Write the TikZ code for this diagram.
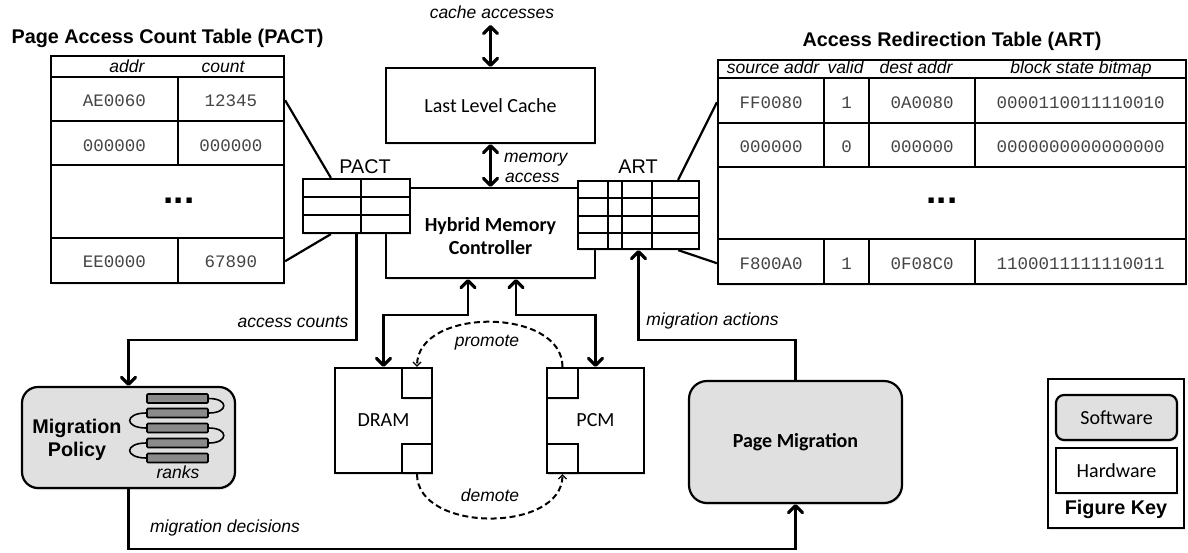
\documentclass[tikz,border=0pt]{standalone}
\usepackage{fontspec}
\setmainfont{Liberation Sans}
\setmonofont{Liberation Mono}
\newfontfamily\calfont{Carlito}
\usetikzlibrary{arrows.meta,shadows}

\definecolor{swgrey}{HTML}{E0E0E0}
\definecolor{rankgrey}{HTML}{8A8A8A}
\definecolor{celltext}{HTML}{444444}

\newcommand\ttlsize{\fontsize{19.8}{23}\selectfont}
\newcommand\lblsize{\fontsize{17.5}{20}\selectfont}
\newcommand\boxsize{\fontsize{20}{23}\selectfont}

\begin{document}
\begin{tikzpicture}[x=1pt,y=-1pt,line width=2.2pt,
  >={Straight Barb[length=7pt,width=14pt,line width=3.2pt,round]},
  hw/.style={draw,line width=2.2pt,fill=white,inner sep=0pt,
    drop shadow={opacity=0.18,shadow xshift=1pt,shadow yshift=-2pt}},
  sw/.style={hw,fill=swgrey,rounded corners=16pt},
  txt/.style={inner sep=0pt,anchor=base},
  title/.style={txt,font=\ttlsize\bfseries},
  lbl/.style={txt,font=\lblsize\itshape},
  cell/.style={txt,font=\lblsize\ttfamily,text=celltext},
  dots/.style={txt,font=\fontsize{37}{37}\selectfont\bfseries},
  boxlbl/.style={font=\boxsize\calfont},
  bar/.style={draw,line width=1.6pt,fill=rankgrey,minimum width=61pt,
    minimum height=9pt,inner sep=0pt,rounded corners=1pt},
  move/.style={line width=2pt,dash pattern=on 6pt off 3.5pt,
    -{Straight Barb[length=4pt,width=8pt,line width=1.3pt]}}
]
\useasboundingbox (0,0) rectangle (1188,552);

% ---------- Page Access Count Table ----------
\node[title] (pactTitle) at (167.5,43) {Page Access Count Table (PACT)};
\node[hw,minimum width=233pt,minimum height=227pt] (pactT) at (167.5,169.5) {};
\foreach \yy in {77,121,165,238} \draw (51,\yy) -- (284,\yy);
\draw (178,77) -- (178,165) (178,238) -- (178,283);
\node[lbl] (pactH1) at (127,72) {addr};
\node[lbl] (pactH2) at (223,72) {count};
\node[cell] (p11) at (114.5,106) {AE0060};
\node[cell] (p12) at (231,106) {12345};
\node[cell] (p21) at (114.5,151) {000000};
\node[cell] (p22) at (231,151) {000000};
\node[dots] (pdots) at (179,203) {...};
\node[cell] (p41) at (114.5,267) {EE0000};
\node[cell] (p42) at (231,267) {67890};

% ---------- Access Redirection Table ----------
\node[title] (artTitle) at (952,46) {Access Redirection Table (ART)};
\node[hw,minimum width=468pt,minimum height=224pt] (artT) at (952,172) {};
\foreach \yy in {78,123,167,239} \draw (718,\yy) -- (1186,\yy);
\foreach \xx in {824,869,975} \draw (\xx,78) -- (\xx,167) (\xx,239) -- (\xx,284);
\node[lbl] (artH1) at (773,73) {source addr};
\node[lbl] (artH2) at (845.5,73) {valid};
\node[lbl] (artH3) at (916,73) {dest addr};
\node[lbl] (artH4) at (1081,73) {block state bitmap};
\node[cell] (a11) at (771,108) {FF0080};
\node[cell] (a12) at (846.5,108) {1};
\node[cell] (a13) at (922,108) {0A0080};
\node[cell] (a14) at (1080.5,108) {0000110011110010};
\node[cell] (a21) at (771,152) {000000};
\node[cell] (a22) at (846.5,152) {0};
\node[cell] (a23) at (922,152) {000000};
\node[cell] (a24) at (1080.5,152) {0000000000000000};
\node[dots] (adots) at (942,203) {...};
\node[cell] (a41) at (771,269) {F800A0};
\node[cell] (a42) at (846.5,269) {1};
\node[cell] (a43) at (922,269) {0F08C0};
\node[cell] (a44) at (1080.5,269) {1100011111110011};

% ---------- cache and controller ----------
\node[hw,boxlbl,minimum width=209pt,minimum height=75pt] (llc) at (490.5,105.5) {Last Level Cache};
\node[hw,minimum width=209pt,minimum height=90pt] (hmc) at (490.5,233) {};
\node[boxlbl,font=\boxsize\calfont\bfseries,align=center,inner sep=0pt] (hmcText) at (490.5,236) {Hybrid Memory\\Controller};

% on-chip copies of the two tables
\node[hw,minimum width=107pt,minimum height=54pt] (pactS) at (356.5,206) {};
\draw (303,197) -- (410,197) (303,215) -- (410,215) (361,179) -- (361,233);
\node[txt,font=\ttlsize] (pactLbl) at (365,173) {PACT};
\node[hw,minimum width=121pt,minimum height=68pt] (artS) at (638.5,215) {};
\foreach \yy in {198,216,233} \draw (578,\yy) -- (699,\yy);
\foreach \xx in {608,622,652} \draw (\xx,181) -- (\xx,249);
\node[txt,font=\ttlsize] (artLbl) at (638,173) {ART};

\draw (pactT.east |- p11) -- ([xshift=29pt]pactS.north west);
\draw (pactT.east |- p41) -- ([xshift=29pt]pactS.south west);
\draw (artT.west |- a11) -- ([xshift=-22pt]artS.north east);
\draw (artT.west |- a41) -- ([xshift=-22pt]artS.south east);

% ---------- memories ----------
\node[hw,boxlbl,minimum width=97pt,minimum height=105pt] (dram) at (383.5,420.5) {DRAM};
\node[hw,minimum width=30pt,minimum height=30pt] (dramA) at (417,383) {};
\node[hw,minimum width=30pt,minimum height=29pt] (dramB) at (417,458.5) {};
\node[hw,boxlbl,minimum width=97pt,minimum height=105pt] (pcm) at (595.5,420.5) {PCM};
\node[hw,minimum width=31pt,minimum height=30pt] (pcmA) at (562.5,383) {};
\node[hw,minimum width=31pt,minimum height=29pt] (pcmB) at (562.5,458.5) {};

% ---------- software components ----------
\node[sw,minimum width=213pt,minimum height=101pt] (mp) at (128.5,437.5) {};
\node[txt,font=\ttlsize\bfseries,anchor=center,align=center] (mpText) at (77,440) {Migration\\Policy};
\node[bar] (r1) at (177.5,398.5) {};
\node[bar] (r2) at (177.5,413) {};
\node[bar] (r3) at (177.5,428) {};
\node[bar] (r4) at (177.5,443) {};
\node[bar] (r5) at (177.5,458) {};
\draw[line width=1.6pt] (r1.east) .. controls +(20,0) and +(20,0) .. (r2.east);
\draw[line width=1.6pt] (r2.west) .. controls +(-22,0) and +(-22,0) .. (r3.west);
\draw[line width=1.6pt] (r3.east) .. controls +(20,0) and +(20,0) .. (r4.east);
\draw[line width=1.6pt] (r4.west) .. controls +(-22,0) and +(-22,0) .. (r5.west);
\node[lbl] (ranks) at (178,478) {ranks};

\node[sw,boxlbl,font=\boxsize\calfont\bfseries,minimum width=213pt,minimum height=122pt,rounded corners=18pt] (pm) at (795.5,442) {Page Migration};

% ---------- figure key ----------
\node[hw,minimum width=136pt,minimum height=149pt] (key) at (1116,453.5) {};
\node[sw,boxlbl,rounded corners=8pt,minimum width=121pt,minimum height=45pt] (keySw) at (1116.5,417.5) {Software};
\node[hw,boxlbl,minimum width=121pt,minimum height=45pt] (keyHw) at (1116.5,470.5) {Hardware};
\node[title] (keyTitle) at (1116,514) {Figure Key};

% ---------- connectors ----------
\coordinate (cpu) at (490.5,25);
\node[lbl] (caLbl) at (492,18) {cache accesses};
\draw[<->] (cpu) -- (llc.north);
\draw[<->] (llc.south) -- (hmc.north);
\node[lbl,anchor=base west] (maLbl1) at (503,162) {memory};
\node[lbl,anchor=base west] (maLbl2) at (504,182) {access};

\draw[<->] ([xshift=-22.5pt]hmc.south) -- ++(0,36) -| (dram.north);
\draw[<->] ([xshift=25.5pt]hmc.south) -- ++(0,36) -| (pcm.north);

\draw[move] (pcmA.north) .. controls +(0,-60) and +(0,-60) .. (dramA.north);
\node[lbl] (promLbl) at (487,346) {promote};
\draw[move] (dramB.south) .. controls +(0,59) and +(0,59) .. (pcmB.south);
\node[lbl] (demLbl) at (490,501) {demote};

\draw[->] (pactS.south) -- ++(0,106) -| (mp.north);
\node[lbl] (acLbl) at (293,327) {access counts};
\draw[->] (mp.south) -- ++(0,60) -| (pm.south);
\node[lbl] (mdLbl) at (225,532) {migration decisions};
\draw[->] (pm.north) -- ++(0,-40) -| (artS.south);
\node[lbl] (maLbl) at (712.5,325) {migration actions};
\end{tikzpicture}
\end{document}
